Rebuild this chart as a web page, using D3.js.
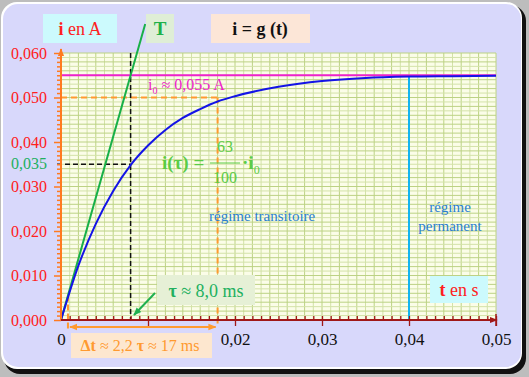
<!DOCTYPE html>
<html>
<head>
<meta charset="utf-8">
<script src="https://cdn.jsdelivr.net/npm/d3@7"></script>
<style>
  body { margin: 0; background: #bdbdbd; }
  svg { display: block; }
  svg text { font-family: "Liberation Serif", "Times New Roman", "DejaVu Serif", serif; }
</style>
</head>
<body>
<svg id="chart" width="529" height="377"></svg>
<script>
// courbe i = g(t) (t en s, i en A)
const tValues = [0, 0.002, 0.004, 0.006, 0.008, 0.010, 0.012, 0.014, 0.016, 0.018, 0.020,
                 0.025, 0.030, 0.035, 0.040, 0.045, 0.050];
const iValues = [0, 0.0122, 0.0216, 0.0290, 0.0348, 0.0392, 0.0427, 0.0454, 0.0474, 0.0491, 0.0503,
                 0.0524, 0.0537, 0.0544, 0.0547, 0.0548, 0.0549];

const yTicks = [0, 0.01, 0.02, 0.03, 0.04, 0.05, 0.06];
const xTickLabels = [0, 0.02, 0.03, 0.04, 0.05];

const I0 = 0.055;      // valeur finale
const TAU = 0.008;     // constante de temps
const I_TAU = 0.035;   // i(tau)
const T_START = 0.0008; // debut de Δt (10 %)
const T_END = 0.018;    // fin de Δt (90 %)
const I_90 = 0.050;
const T_PERM = 0.04;
const TANGENT_END = [0.00968, 0.0665];

const fr = v => d3.format(".3f")(v).replace(".", ",");
const frX = v => v === 0 ? "0" : d3.format(".2f")(v).replace(".", ",");

const svg = d3.select("#chart");

// flèches
const defs = svg.append("defs");
const mk = (id, color, size) => {
    defs.append("marker")
        .attr("id", id).attr("viewBox", "0 0 10 10")
        .attr("refX", 9).attr("refY", 5)
        .attr("markerWidth", size).attr("markerHeight", size)
        .attr("orient", "auto-start-reverse")
        .append("path").attr("d", "M0,1 L10,5 L0,9 Z").attr("fill", color);
};
mk("arrOrange", "#ff9a30", 4);
mk("arrGreen", "#20b050", 4);
mk("arrRed", "#a01818", 4);
mk("arrYAxis", "#ff7a20", 4);

// cadre
svg.append("rect").attr("x", 4).attr("y", 5).attr("width", 522).attr("height", 369)
    .attr("rx", 16).attr("fill", "#111");
svg.append("rect").attr("x", 1).attr("y", 2).attr("width", 521).attr("height", 367)
    .attr("rx", 16).attr("fill", "#ffffff");
svg.append("rect").attr("x", 3).attr("y", 4).attr("width", 518).attr("height", 363)
    .attr("rx", 15).attr("fill", "#d8d8fb");

// échelles
const x = d3.scaleLinear().domain([0, 0.05]).range([61, 496]);
const y = d3.scaleLinear().domain([0, 0.06]).range([320, 53]);

// papier millimétré
svg.append("rect")
    .attr("x", x(0)).attr("y", y(0.06))
    .attr("width", x(0.05) - x(0)).attr("height", y(0) - y(0.06))
    .attr("fill", "#fbfde8");

const grid = svg.append("g");
grid.selectAll(".vx").data(d3.range(0, 51)).enter().append("line")
    .attr("x1", d => x(d / 1000)).attr("x2", d => x(d / 1000))
    .attr("y1", y(0.06)).attr("y2", y(0))
    .attr("stroke", d => d % 2 === 0 ? "#bcd284" : "#d3e2a8")
    .attr("stroke-width", 1);
grid.selectAll(".hy").data(d3.range(0, 61)).enter().append("line")
    .attr("x1", x(0)).attr("x2", x(0.05))
    .attr("y1", d => y(d / 1000)).attr("y2", d => y(d / 1000))
    .attr("stroke", d => d % 2 === 0 ? "#bcd284" : "#d3e2a8")
    .attr("stroke-width", 1);

// i0
svg.append("line")
    .attr("x1", x(0)).attr("x2", x(0.05))
    .attr("y1", y(I0)).attr("y2", y(I0))
    .attr("stroke", "#ee22cc").attr("stroke-width", 2);

// pointillés orange (90 %)
svg.append("line")
    .attr("x1", x(0)).attr("x2", x(T_END))
    .attr("y1", y(I_90)).attr("y2", y(I_90))
    .attr("stroke", "#ff9a30").attr("stroke-width", 2).attr("stroke-dasharray", "6,4");
svg.append("line")
    .attr("x1", x(T_END)).attr("x2", x(T_END))
    .attr("y1", y(I_90)).attr("y2", y(0) + 4)
    .attr("stroke", "#ff9a30").attr("stroke-width", 2).attr("stroke-dasharray", "6,4");
svg.append("line")
    .attr("x1", x(T_START)).attr("x2", x(T_START))
    .attr("y1", y(0.0055)).attr("y2", y(0) + 10)
    .attr("stroke", "#ff9a30").attr("stroke-width", 2).attr("stroke-dasharray", "6,3");

// pointillés noirs (tau)
svg.append("line")
    .attr("x1", x(TAU)).attr("x2", x(TAU))
    .attr("y1", y(0.06)).attr("y2", y(0))
    .attr("stroke", "#111").attr("stroke-width", 1.5).attr("stroke-dasharray", "5,3");
svg.append("line")
    .attr("x1", x(0) - 4).attr("x2", x(TAU))
    .attr("y1", y(I_TAU)).attr("y2", y(I_TAU))
    .attr("stroke", "#111").attr("stroke-width", 1.5).attr("stroke-dasharray", "5,3");

// régime permanent
svg.append("line")
    .attr("x1", x(T_PERM)).attr("x2", x(T_PERM))
    .attr("y1", y(0.0547)).attr("y2", y(0))
    .attr("stroke", "#12b4f0").attr("stroke-width", 2);

// tangente
svg.append("line")
    .attr("x1", x(0)).attr("y1", y(0))
    .attr("x2", x(TANGENT_END[0])).attr("y2", y(TANGENT_END[1]))
    .attr("stroke", "#18b048").attr("stroke-width", 2);

// courbe
const pts = tValues.map((t, k) => [t, iValues[k]]);
svg.append("path")
    .datum(pts)
    .attr("fill", "none")
    .attr("stroke", "#1414e6")
    .attr("stroke-width", 2)
    .attr("d", d3.line().x(d => x(d[0])).y(d => y(d[1])).curve(d3.curveMonotoneX));

// axe des ordonnées
svg.append("line")
    .attr("x1", x(0)).attr("x2", x(0))
    .attr("y1", y(0)).attr("y2", y(0.06) - 4)
    .attr("stroke", "#ff7a20").attr("stroke-width", 2)
    .attr("marker-end", "url(#arrYAxis)");
svg.append("g")
    .attr("transform", `translate(${x(0)},0)`)
    .call(d3.axisLeft(y).tickValues(d3.range(0, 61).map(d => d / 1000))
        .tickSize(4).tickFormat(""))
    .call(g => g.select(".domain").remove())
    .call(g => g.selectAll(".tick line").attr("stroke", "#ff7a20").attr("stroke-width", 1.5)
        .attr("x2", (d, k) => k % 10 === 0 ? -7 : -4));

svg.append("g")
    .attr("transform", `translate(${x(0)},0)`)
    .call(d3.axisLeft(y).tickValues(yTicks).tickSize(0).tickPadding(14).tickFormat(fr))
    .call(g => g.select(".domain").remove())
    .call(g => g.selectAll("text").attr("fill", "#ff2020").attr("font-size", 16));

svg.append("text")
    .attr("x", x(0) - 14).attr("y", y(I_TAU)).attr("dy", "0.32em")
    .attr("text-anchor", "end").attr("fill", "#22b060").attr("font-size", 16)
    .text(fr(I_TAU));

// axe des abscisses
svg.append("line")
    .attr("x1", x(0)).attr("x2", x(0.05) + 1)
    .attr("y1", y(0)).attr("y2", y(0))
    .attr("stroke", "#a01818").attr("stroke-width", 2)
    .attr("marker-end", "url(#arrRed)");
svg.append("g")
    .attr("transform", `translate(0,${y(0)})`)
    .call(d3.axisBottom(x).tickValues(d3.range(1, 51).map(d => d / 1000))
        .tickSize(4).tickFormat(""))
    .call(g => g.select(".domain").remove())
    .call(g => g.selectAll(".tick line").attr("stroke", "#a01818").attr("stroke-width", 1.3)
        .attr("y1", -4).attr("y2", (d, k) => (k + 1) % 10 === 0 ? 6 : 1));
svg.append("line")
    .attr("x1", x(0.05)).attr("x2", x(0.05))
    .attr("y1", y(0) - 6).attr("y2", y(0) + 6)
    .attr("stroke", "#a01818").attr("stroke-width", 1.5);

svg.append("g")
    .attr("transform", `translate(0,${y(0) + 10})`)
    .call(d3.axisBottom(x).tickValues(xTickLabels).tickSize(0).tickPadding(3).tickFormat(frX))
    .call(g => g.select(".domain").remove())
    .call(g => g.selectAll("text").attr("fill", "#111").attr("font-size", 17));

// Δt
svg.append("line")
    .attr("x1", x(T_START) + 2).attr("x2", x(T_END) - 2)
    .attr("y1", 327).attr("y2", 327)
    .attr("stroke", "#ff9a30").attr("stroke-width", 2)
    .attr("marker-start", "url(#arrOrange)").attr("marker-end", "url(#arrOrange)");

// étiquettes encadrées
const box = (x0, y0, w, h, fill) =>
    svg.append("rect").attr("x", x0).attr("y", y0).attr("width", w).attr("height", h).attr("fill", fill);

box(43, 14, 74, 29, "#ccfafd");
svg.append("text").attr("x", 80).attr("y", 35).attr("text-anchor", "middle")
    .attr("font-size", 18).attr("fill", "#ff2020")
    .html('<tspan font-weight="bold">i</tspan> en A');

box(146, 14, 28, 29, "#dfeed6");
svg.append("text").attr("x", 160).attr("y", 35).attr("text-anchor", "middle")
    .attr("font-size", 19).attr("font-weight", "bold").attr("fill", "#20b048").text("T");

box(211, 14, 99, 29, "#fce6d7");
svg.append("text").attr("x", 260).attr("y", 35).attr("text-anchor", "middle")
    .attr("font-size", 18).attr("font-weight", "bold").attr("fill", "#111").text("i = g (t)");

box(430, 276, 58, 27, "#ccfafd");
svg.append("text").attr("x", 459).attr("y", 296).attr("text-anchor", "middle")
    .attr("font-size", 18).attr("fill", "#ff2020")
    .html('<tspan font-weight="bold">t</tspan> en s');

box(157, 275, 98, 30, "#e6f0d6");
svg.append("text").attr("x", 206).attr("y", 297).attr("text-anchor", "middle")
    .attr("font-size", 18).attr("fill", "#22b060")
    .html('<tspan font-weight="bold">τ</tspan> ≈ 8,0 ms');
svg.append("line")
    .attr("x1", 155).attr("y1", 293).attr("x2", 134).attr("y2", 315)
    .attr("stroke", "#20b050").attr("stroke-width", 2)
    .attr("marker-end", "url(#arrGreen)");

box(71, 333, 141, 25, "#fde7cf");
svg.append("text").attr("x", 140).attr("y", 351).attr("text-anchor", "middle")
    .attr("font-size", 16).attr("fill", "#ff9a30")
    .html('<tspan font-weight="bold">Δt</tspan> ≈ 2,2 <tspan font-weight="bold">τ</tspan> ≈ 17 ms');

// i0
svg.append("text").attr("x", 148).attr("y", 90)
    .attr("font-size", 16).attr("fill", "#ee22cc")
    .html('i<tspan font-size="10" dy="4">0</tspan><tspan dy="-4"> ≈ 0,055 A</tspan>');

// i(τ) = 63/100 · i0
const f = svg.append("g").attr("fill", "#5acc46");
f.append("text").attr("x", 162).attr("y", 169)
    .attr("font-size", 19).attr("font-weight", "bold").text("i(τ) =");
f.append("text").attr("x", 225).attr("y", 152).attr("text-anchor", "middle")
    .attr("font-size", 16).text("63");
f.append("line").attr("x1", 210).attr("x2", 240).attr("y1", 163).attr("y2", 163)
    .attr("stroke", "#5acc46").attr("stroke-width", 1);
f.append("text").attr("x", 225).attr("y", 183).attr("text-anchor", "middle")
    .attr("font-size", 16).text("100");
f.append("text").attr("x", 242).attr("y", 169)
    .attr("font-size", 19).attr("font-weight", "bold")
    .html('·i<tspan font-size="12" font-weight="normal" dy="5">0</tspan>');

// régimes
svg.append("text").attr("x", 209).attr("y", 221)
    .attr("font-size", 15).attr("fill", "#2a80d0").text("régime transitoire");
svg.append("text").attr("x", 450).attr("y", 212).attr("text-anchor", "middle")
    .attr("font-size", 15).attr("fill", "#2a80d0").text("régime");
svg.append("text").attr("x", 450).attr("y", 231).attr("text-anchor", "middle")
    .attr("font-size", 15).attr("fill", "#2a80d0").text("permanent");
</script>
</body>
</html>
